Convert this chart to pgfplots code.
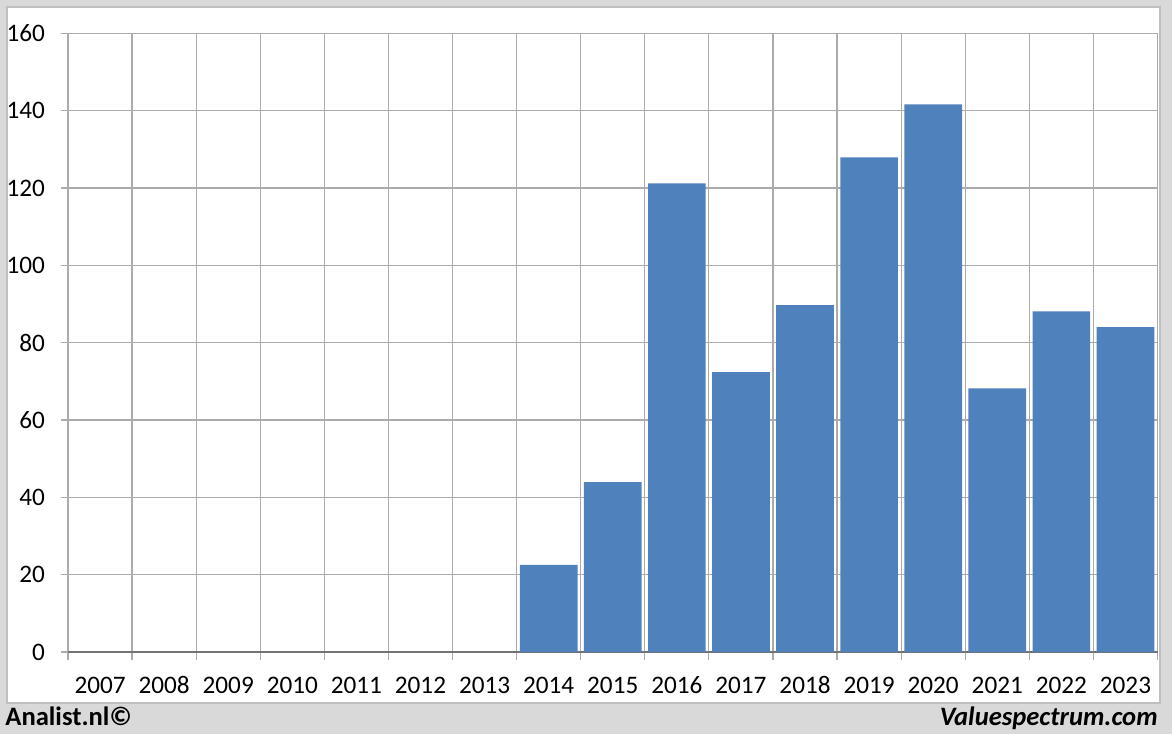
\documentclass[border=0pt]{standalone}
\usepackage{fontspec}
\setmainfont{Carlito}
\usepackage{pgfplots}
\pgfplotsset{compat=1.18}
\definecolor{bg}{HTML}{D9D9D9}
\definecolor{panelborder}{HTML}{BFBFBF}
\definecolor{gridc}{HTML}{ABABAB}
\definecolor{barc}{HTML}{4F81BD}
\begin{document}
\begin{tikzpicture}[x=1pt,y=1pt]
\fill[bg] (0,0) rectangle (586,367);
\useasboundingbox (0,0) rectangle (586,367);
\filldraw[fill=white,draw=panelborder,line width=0.6pt] (3.5,15.5) rectangle (580,363.5);
\begin{axis}[
  at={(34pt,41pt)}, anchor=south west,
  scale only axis, width=544.75pt, height=309.35pt,
  xmin=-0.5, xmax=16.5, ymin=0, ymax=160,
  xtick={0,...,16},
  xticklabels={2007,2008,2009,2010,2011,2012,2013,2014,2015,2016,2017,2018,2019,2020,2021,2022,2023},
  minor xtick={-0.5,0.5,...,16.5},
  ytick={0,20,...,160},
  xmajorgrids=false, xminorgrids=true, ymajorgrids=true,
  grid style={gridc, line width=0.6pt},
  minor grid style={gridc, line width=0.6pt},
  axis line style={gridc, line width=0.6pt},
  tick align=outside,
  major tick length=3.5pt,
  minor tick length=4pt,
  major x tick style={draw=none},
  minor x tick style={gridc, line width=0.6pt},
  ytick style={gridc, line width=0.6pt},
  extra y ticks={0}, extra y tick labels={},
  extra y tick style={grid style={draw=gray!90!black, line width=0.7pt}, tick style={draw=none}},
  xtick pos=bottom, ytick pos=left,
  /pgf/number format/assume math mode=true,
  ticklabel style={font=\fontsize{12.6}{14}\selectfont, text=black},
  xticklabel style={yshift=-4.5pt, text height=9pt, text depth=0pt},
  yticklabel style={xshift=-4.5pt},
  ybar, bar width=0.9,
]
\addplot[fill=barc, draw=none] coordinates {
 (7,22.5) (8,43.9) (9,121.2) (10,72.4) (11,89.7) (12,127.9) (13,141.6) (14,68.2) (15,88.1) (16,84.0)
};
\end{axis}
\node[anchor=base west, inner sep=0pt, font=\fontsize{13.3}{15}\selectfont\bfseries] at (2.5,4.5) {Analist.nl©};
\node[anchor=base east, inner sep=0pt, font=\fontsize{13.3}{15}\selectfont\bfseries\itshape] at (579,4.5) {Valuespectrum.com};
\end{tikzpicture}
\end{document}
